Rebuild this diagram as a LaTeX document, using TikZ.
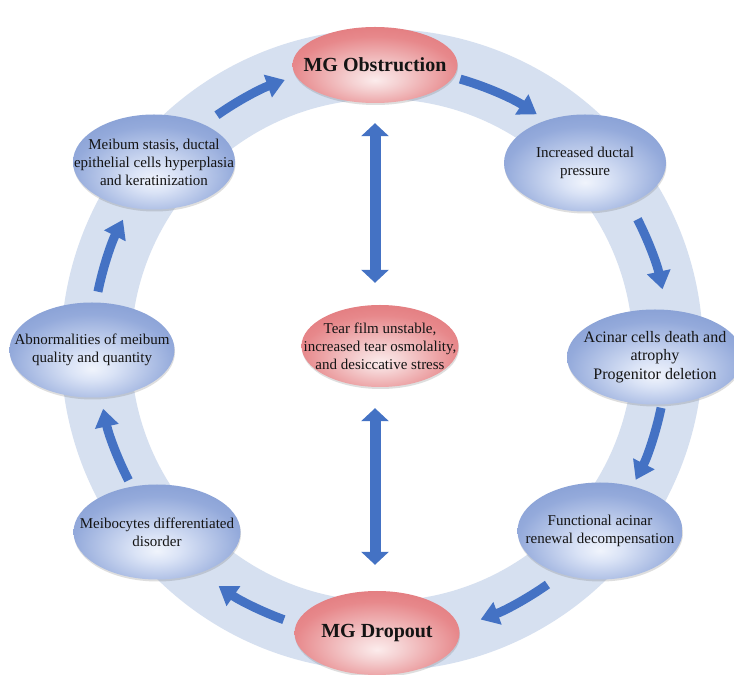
\documentclass[tikz,border=0pt]{standalone}
\usepackage{fontspec}
\setmainfont{Liberation Serif}
\usetikzlibrary{shapes.geometric,arrows.meta,shadows}
\definecolor{ringblue}{RGB}{214,224,240}
\definecolor{arrowblue}{RGB}{68,114,196}
\definecolor{bluein}{RGB}{240,244,252}
\definecolor{bluelt}{RGB}{218,227,246}
\definecolor{bluemid}{RGB}{148,170,219}
\definecolor{blueedge}{RGB}{114,142,202}
\definecolor{bluedk}{RGB}{102,130,194}
\definecolor{redin}{RGB}{252,236,236}
\definecolor{redlt}{RGB}{245,210,211}
\definecolor{redmid}{RGB}{231,136,139}
\definecolor{rededge}{RGB}{219,102,106}
\definecolor{reddk}{RGB}{210,90,96}
\pgfdeclareradialshading{blueball}{\pgfpoint{0bp}{-10bp}}{color(0bp)=(bluein); color(7bp)=(bluelt); color(25bp)=(bluemid); color(45bp)=(blueedge); color(65bp)=(bluedk)}
\pgfdeclareradialshading{redball}{\pgfpoint{0bp}{-10bp}}{color(0bp)=(redin); color(7bp)=(redlt); color(25bp)=(redmid); color(45bp)=(rededge); color(65bp)=(reddk)}
\tikzset{
  ellbase/.style={ellipse, shade, inner sep=0pt,
    drop shadow={shadow xshift=0.5pt, shadow yshift=-2pt, opacity=0.18, fill=black!70}},
  bnode/.style={ellbase, shading=blueball},
  rnode/.style={ellbase, shading=redball},
  txt/.style={align=center, text=black!92, inner sep=0pt, font=\fontsize{15}{18}\selectfont},
  title/.style={txt, font=\fontsize{20}{24}\selectfont\bfseries},
  flow/.style={draw=arrowblue, line width=9pt, -{Triangle[width=23pt,length=18pt]}},
  dbl/.style={draw=arrowblue, line width=11pt, {Triangle[width=27pt,length=13pt]}-{Triangle[width=27pt,length=13pt]}},
}
\begin{document}
\begin{tikzpicture}[x=1pt,y=1pt]
\useasboundingbox (0,0) rectangle (734,675);
\fill[white] (0,0) rectangle (734,675);
\coordinate (C) at (382,325);
% ring
\draw[ringblue, line width=70pt] (C) circle[radius=286];
% cycle arrows
\draw[flow] (C) ++(125.1:287) arc[start angle=125.1, end angle=109.8, radius=287];
\draw[flow] (C) ++(73.9:282) arc[start angle=73.9, end angle=56.7, radius=282];
\draw[flow] (C) ++(27.1:287) arc[start angle=27.1, end angle=12.2, radius=287];
\draw[flow] (C) ++(-11.7:285) arc[start angle=-11.7, end angle=-27.1, radius=285];
\draw[flow] (C) ++(-54.8:287) arc[start angle=-54.8, end angle=-69.9, radius=287];
\draw[flow] (C) ++(250:287) arc[start angle=250, end angle=235.3, radius=287];
\draw[flow] (C) ++(207.2:285) arc[start angle=207.2, end angle=191.9, radius=285];
\draw[flow] (C) ++(168.4:290) arc[start angle=168.4, end angle=153.3, radius=290];
% nodes
\node[rnode, minimum width=165pt, minimum height=76pt, label={[title]center:MG Obstruction}] (obs) at (375,610) {};
\node[bnode, minimum width=162pt, minimum height=97pt, label={[txt]center:{Increased ductal\\pressure}}] (inc) at (585,512) {};
\node[bnode, minimum width=176pt, minimum height=95pt, label={[txt, font=\fontsize{16}{18.5}\selectfont]center:{Acinar cells death and\\atrophy\\Progenitor deletion}}] (aci) at (655,318) {};
\node[bnode, minimum width=165pt, minimum height=97pt, label={[txt]center:{Functional acinar\\renewal decompensation}}] (fun) at (600,144) {};
\node[rnode, minimum width=165pt, minimum height=84pt, label={[title]center:MG Dropout}] (drop) at (377,42) {};
\node[bnode, minimum width=167pt, minimum height=95pt, label={[txt]center:{Meibocytes differentiated\\disorder}}] (mei) at (157,143) {};
\node[bnode, minimum width=165pt, minimum height=95pt, label={[txt]center:{Abnormalities of meibum\\quality and quantity}}] (abn) at (92,325) {};
\node[bnode, minimum width=162pt, minimum height=95pt, label={[txt]center:{Meibum stasis, ductal\\epithelial cells hyperplasia\\and keratinization}}] (sta) at (154,513) {};
\node[rnode, minimum width=157pt, minimum height=82pt, label={[txt]center:{Tear film unstable,\\increased tear osmolality,\\and desiccative stress}}] (tear) at (380,329) {};
% double arrows
\draw[dbl, shorten <=20pt, shorten >=22pt] (obs.south) -- (obs.south |- tear.north);
\draw[dbl, shorten <=21pt, shorten >=26pt] (obs.south |- tear.south) -- (obs.south |- drop.north);
\end{tikzpicture}
\end{document}
